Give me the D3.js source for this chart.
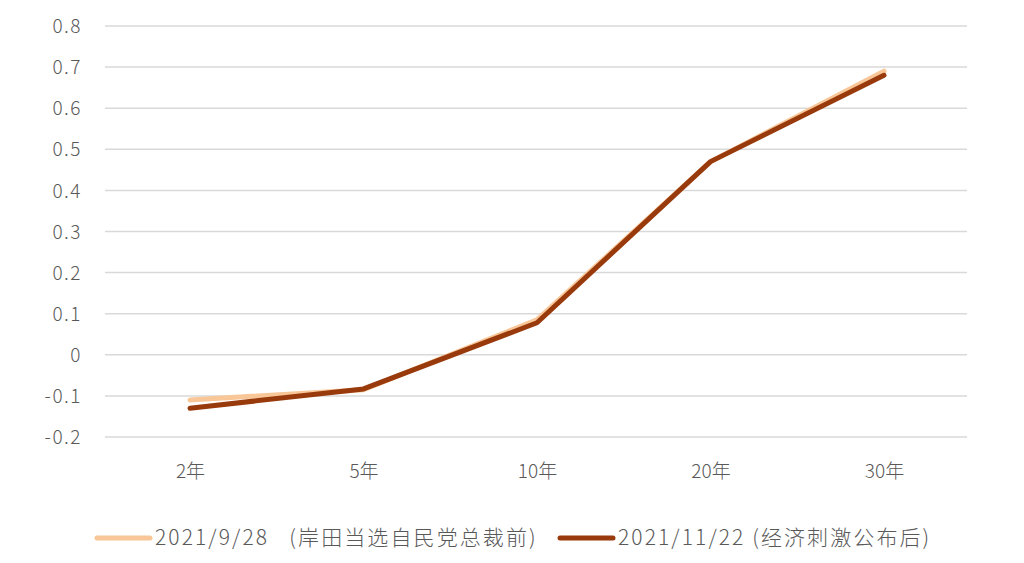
<!DOCTYPE html>
<html><head><meta charset="utf-8">
<script src="https://cdn.jsdelivr.net/npm/d3@7"></script>
<style>body{margin:0;background:#fff}svg{display:block}text{font-family:"Noto Sans CJK SC","Noto Sans",sans-serif;font-weight:300;fill:#595959}</style>
</head><body><svg id="c" width="1024" height="563"></svg>
<script>
const categories = ["2年","5年","10年","20年","30年"];
const seriesNames = ["2021/9/28   (岸田当选自民党总裁前)", "2021/11/22 (经济刺激公布后)"];
const seriesBefore = [-0.11, -0.085, 0.085, 0.47, 0.69];
const seriesAfter = [-0.13, -0.083, 0.078, 0.47, 0.68];
const yTicks = [-0.2,-0.1,0,0.1,0.2,0.3,0.4,0.5,0.6,0.7,0.8];
const colors = ["#F8C697", "#983A0C"];

const svg = d3.select("#c");
const x = d3.scalePoint().domain(categories).range([190, 884]);
const y = d3.scaleLinear().domain([-0.2, 0.8]).range([437, 26]);

const grid = svg.append("g");
grid.selectAll("line").data(yTicks).join("line")
  .attr("x1",105).attr("x2",967)
  .attr("y1",d=>y(d)).attr("y2",d=>y(d))
  .attr("stroke","#d9d9d9").attr("stroke-width",1.5);

const yAxis = svg.append("g").attr("transform","translate(85,0)")
  .call(d3.axisLeft(y).tickValues(yTicks).tickSize(0).tickFormat(d=>String(+d.toFixed(1))));
yAxis.select(".domain").remove();
yAxis.selectAll("text").attr("font-size",19).attr("letter-spacing","1.5px").attr("dx",0).attr("dy","0.35em");

const xAxis = svg.append("g").attr("transform","translate(0,461)")
  .call(d3.axisBottom(x).tickSize(0));
xAxis.select(".domain").remove();
xAxis.selectAll("text").attr("font-size",19).attr("dy","0.71em");

const line = d3.line().x((d,i)=>x(categories[i])).y(d=>y(d));
[seriesBefore, seriesAfter].forEach((s,i)=>{
  svg.append("path").datum(s).attr("d",line)
    .attr("fill","none").attr("stroke",colors[i]).attr("stroke-width",5)
    .attr("stroke-linejoin","round").attr("stroke-linecap","round");
});

const legX = [97, 560];
seriesNames.forEach((n,i)=>{
  const g = svg.append("g").attr("transform",`translate(${legX[i]},538)`);
  g.append("line").attr("x1",0).attr("x2",53).attr("stroke",colors[i]).attr("stroke-width",5).attr("stroke-linecap","round");
  g.append("text").attr("x",58).attr("dy","0.35em").attr("font-size",21).attr("letter-spacing","2.1px")
    .style("white-space","pre").text(n);
});
</script></body></html>
